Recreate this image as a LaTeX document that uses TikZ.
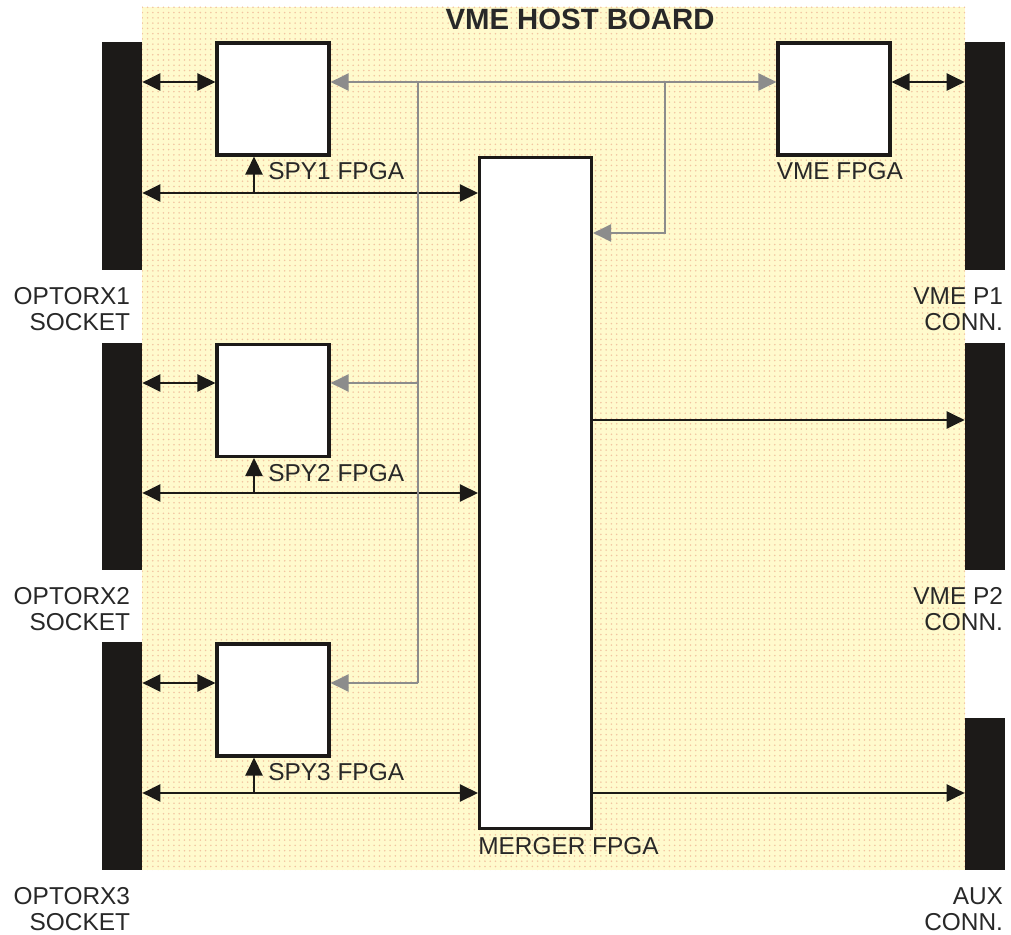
\documentclass[tikz,border=0pt]{standalone}
\usepackage{fontspec}
\setmainfont{Liberation Sans}
\usetikzlibrary{arrows.meta,patterns}
\definecolor{vhyellow}{RGB}{255,250,205}
\definecolor{vhdot}{RGB}{242,196,160}
\definecolor{vhbar}{RGB}{28,26,24}
\definecolor{vhgray}{RGB}{140,140,140}
\definecolor{vhtext}{RGB}{40,40,40}
\tikzset{
  vhfpga/.style={draw=vhbar, line width=1.8pt, fill=white, minimum width=2.24cm, minimum height=2.24cm, inner sep=0pt},
  vhconn/.style={fill=vhbar, minimum width=.8cm, inner sep=0pt},
  vhlabel/.style={text=vhtext, inner sep=0pt, anchor=west},
  vhcaption/.style={text=vhtext, inner sep=0pt, align=right, anchor=north east},
  vharr/.style={-{Triangle[length=3.6mm,width=3.4mm]}, line width=1.5pt, draw=vhbar},
  vhboth/.style={{Triangle[length=3.6mm,width=3.4mm]}-{Triangle[length=3.6mm,width=3.4mm]}, line width=1.5pt, draw=vhbar},
  vhbus/.style={line width=1.3pt, draw=vhgray},
  vhbusarr/.style={vhbus, -{Triangle[length=3.6mm,width=3.4mm]}},
  vhbusboth/.style={vhbus, {Triangle[length=3.6mm,width=3.4mm]}-{Triangle[length=3.6mm,width=3.4mm]}}
}
\begin{document}
\begin{tikzpicture}[x=.02cm, y=-.02cm, font=\fontsize{13.9}{14.7}\selectfont]
  \useasboundingbox (0,0) rectangle (1011,935);
  \fill[vhyellow] (142,7) rectangle (965,870);
  \fill[pattern=dots, pattern color=vhdot] (142,7) rectangle (965,870);
  \node[font=\bfseries\fontsize{16.7}{18}\selectfont, text=vhtext] (title) at (580,19) {VME HOST BOARD};

  \node[vhconn, minimum height=4.56cm] (optoone) at (122,156) {};
  \node[vhconn, minimum height=4.54cm] (optotwo) at (122,456.5) {};
  \node[vhconn, minimum height=4.56cm] (optothree) at (122,756) {};
  \node[vhconn, minimum height=4.56cm] (vmeone) at (985,156) {};
  \node[vhconn, minimum height=4.54cm] (vmetwo) at (985,456.5) {};
  \node[vhconn, minimum height=3.04cm] (aux) at (985,794) {};

  \node[vhcaption] (optoonelab) at ([xshift=-.24cm, yshift=-.34cm]optoone.south east) {OPTORX1\\SOCKET};
  \node[vhcaption] (optotwolab) at ([xshift=-.24cm, yshift=-.34cm]optotwo.south east) {OPTORX2\\SOCKET};
  \node[vhcaption] (optothreelab) at ([xshift=-.24cm, yshift=-.34cm]optothree.south east) {OPTORX3\\SOCKET};
  \node[vhcaption] (vmeonelab) at ([xshift=-.04cm, yshift=-.34cm]vmeone.south east) {VME P1\\CONN.};
  \node[vhcaption] (vmetwolab) at ([xshift=-.04cm, yshift=-.34cm]vmetwo.south east) {VME P2\\CONN.};
  \node[vhcaption] (auxlab) at ([xshift=-.04cm, yshift=-.34cm]aux.south east) {AUX\\CONN.};

  \node[vhfpga] (spyone) at (273,99) {};
  \node[vhfpga] (spytwo) at (273,400.5) {};
  \node[vhfpga] (spythree) at (273,700) {};
  \node[vhfpga] (vmefpga) at (834,99) {};
  \node[vhfpga, minimum height=13.42cm] (merger) at (535.5,493) {};

  \node[vhlabel] (spyonelab) at ([xshift=-.1cm, yshift=-.3cm]spyone.south) {SPY1 FPGA};
  \node[vhlabel] (spytwolab) at ([xshift=-.1cm, yshift=-.3cm]spytwo.south) {SPY2 FPGA};
  \node[vhlabel] (spythreelab) at ([xshift=-.1cm, yshift=-.3cm]spythree.south) {SPY3 FPGA};
  \node[vhlabel] (vmefpgalab) at ([yshift=-.3cm]vmefpga.south west) {VME FPGA};
  \node[vhlabel] (mergerlab) at ([yshift=-.32cm]merger.south west) {MERGER FPGA};

  \coordinate (rowone) at (0,193);
  \coordinate (rowtwo) at (0,493);
  \coordinate (rowthree) at (0,793);
  \coordinate (rowvme) at (0,420);
  \coordinate (busa) at (418,82);
  \coordinate (busend) at (418,683);
  \coordinate (busb) at (665,82);
  \coordinate (mtap) at (665,233);

  \draw[vhboth] ([yshift=.34cm]spyone.west -| optoone.east) -- ([yshift=.34cm]spyone.west);
  \draw[vhboth] ([yshift=.35cm]spytwo.west -| optotwo.east) -- ([yshift=.35cm]spytwo.west);
  \draw[vhboth] ([yshift=.34cm]spythree.west -| optothree.east) -- ([yshift=.34cm]spythree.west);
  \draw[vhboth] ([yshift=.34cm]vmefpga.east) -- ([yshift=.34cm]vmefpga.east -| vmeone.west);

  \draw[vhboth] (optoone.east |- rowone) -- (merger.west |- rowone);
  \draw[vhboth] (optotwo.east |- rowtwo) -- (merger.west |- rowtwo);
  \draw[vhboth] (optothree.east |- rowthree) -- (merger.west |- rowthree);
  \draw[vharr] ([xshift=-.38cm]spyone.south |- rowone) -- ([xshift=-.38cm]spyone.south);
  \draw[vharr] ([xshift=-.38cm]spytwo.south |- rowtwo) -- ([xshift=-.38cm]spytwo.south);
  \draw[vharr] ([xshift=-.38cm]spythree.south |- rowthree) -- ([xshift=-.38cm]spythree.south);

  \draw[vharr] (merger.east |- rowvme) -- (vmetwo.west |- rowvme);
  \draw[vharr] (merger.east |- rowthree) -- (aux.west |- rowthree);

  \draw[vhbusboth] ([yshift=.34cm]spyone.east) -- ([yshift=.34cm]vmefpga.west);
  \draw[vhbus] (busa) -- (busend);
  \draw[vhbusarr] ([yshift=.35cm]spytwo.east -| busa) -- ([yshift=.35cm]spytwo.east);
  \draw[vhbusarr] (busend) -- (busend -| spythree.east);
  \draw[vhbusarr] (busb) -- (mtap) -- (merger.east |- mtap);
\end{tikzpicture}
\end{document}
